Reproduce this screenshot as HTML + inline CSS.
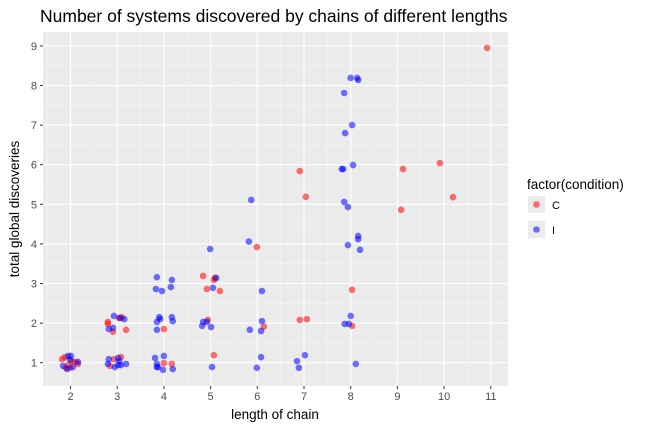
<!DOCTYPE html>
<html><head><meta charset="utf-8">
<style>
html,body{margin:0;padding:0;background:#fff;}
svg{display:block;font-family:"Liberation Sans",Arial,sans-serif;}
</style></head>
<body>
<svg id="chart" width="651" height="430" viewBox="0 0 651 430">
<text x="40" y="22" font-size="17.5" fill="#000">Number of systems discovered by chains of different lengths</text>
<rect x="43" y="32" width="465" height="354" fill="#ebebeb"/>
<g id="grid"></g>
<g id="axes"></g>
<g id="points"></g>
<text x="275" y="419" font-size="13.5" text-anchor="middle" fill="#000">length of chain</text>
<text transform="translate(19,209) rotate(-90)" font-size="13.5" text-anchor="middle" fill="#000">total global discoveries</text>
<g>
<text x="527" y="189" font-size="13.5" fill="#000">factor(condition)</text>
<g>
<rect x="528" y="196" width="17" height="17" fill="#ebebeb"/>
<circle cx="536.5" cy="204.5" r="3.3" fill="rgba(255,0,0,0.55)"/>
<text x="552" y="209" font-size="11" fill="#000">C</text></g>
<g>
<rect x="528" y="221" width="17" height="17" fill="#ebebeb"/>
<circle cx="536.5" cy="229.5" r="3.3" fill="rgba(0,0,255,0.55)"/>
<text x="552" y="234" font-size="11" fill="#000">I</text></g>
</g>
</svg>
<script>
const xTicks=[2,3,4,5,6,7,8,9,10,11];
const yTicks=[1,2,3,4,5,6,7,8,9];
const redX=[1.88,1.95,2.03,1.99,2.10,2.16,1.90,1.82,2.93,3.08,2.85,3.04,3.10,2.80,2.80,2.91,3.19,4.00,4.00,4.17,4.84,5.07,5.09,4.92,5.20,4.94,5.07,5.99,6.14,6.91,7.04,6.91,7.06,8.03,8.03,9.12,9.08,9.91,10.19,10.92];
const redY=[1.14,0.94,1.04,0.87,1.02,0.97,0.87,1.09,1.09,1.14,0.92,2.13,2.15,2.03,1.98,1.78,1.83,1.85,0.99,0.97,3.19,3.09,3.14,2.86,2.81,2.08,1.19,3.92,1.91,5.84,5.19,2.08,2.10,2.84,1.93,5.89,4.86,6.04,5.18,8.95];
const blueX=[1.95,2.01,1.84,1.93,2.05,2.16,1.99,2.82,3.02,3.08,2.95,3.19,2.80,3.04,3.02,2.93,3.06,3.15,2.82,2.91,3.81,4.00,3.85,3.87,3.98,4.19,3.85,3.90,4.17,3.85,3.92,4.19,3.85,3.85,4.17,3.83,3.96,4.15,4.99,5.12,5.05,4.84,4.82,5.01,4.92,5.03,5.82,5.87,6.10,5.84,6.08,6.10,6.08,5.99,7.02,6.85,6.89,8.11,8.00,7.87,7.96,8.16,8.16,7.94,8.20,7.86,7.94,7.81,7.84,8.05,8.03,7.88,7.86,8.00,8.16,8.14];
const blueY=[1.17,1.17,0.92,0.84,0.89,1.02,1.07,1.09,1.12,0.94,0.89,0.97,0.97,1.04,0.94,2.18,2.13,2.10,1.85,1.88,1.12,1.17,0.97,0.89,0.82,0.84,0.89,2.15,2.15,2.03,2.10,2.05,1.83,3.16,3.09,2.86,2.81,2.91,3.87,3.14,2.89,2.03,1.93,1.90,2.03,0.89,4.06,5.11,2.81,1.83,1.80,2.05,1.14,0.87,1.19,1.04,0.87,0.97,2.18,1.98,1.98,4.20,4.12,3.97,3.85,5.06,4.93,5.89,5.89,5.99,7.00,6.80,7.81,8.19,8.14,8.19];
const NS="http://www.w3.org/2000/svg";
const L=43,R=508,T=32,B=386;
function sx(v){return 70.5+(v-2)*46.7;}
function sy(v){return 362.7-(v-1)*39.6;}
function mk(tag,attrs,parent){const e=document.createElementNS(NS,tag);for(const k in attrs)e.setAttribute(k,attrs[k]);parent.appendChild(e);return e;}
const grid=document.getElementById('grid'),axes=document.getElementById('axes'),pts=document.getElementById('points');
for(let i=0;i<xTicks.length;i++){
  const x=sx(xTicks[i]);
  const gl=mk('line',{x1:x,x2:x,y1:T,y2:B,stroke:'#fff','stroke-width':1.1},grid);
  
  
  const mx=sx(xTicks[i]-0.5);
  if(mx>L){const m=mk('line',{x1:mx,x2:mx,y1:T,y2:B,stroke:'#f5f5f5','stroke-width':0.6},grid);
  
  }
  mk('line',{x1:x,x2:x,y1:B,y2:B+3,stroke:'#333','stroke-width':1},axes);
  const t=mk('text',{x:x,y:B+14,'font-size':11,'text-anchor':'middle',fill:'#4d4d4d'},axes);
  t.textContent=xTicks[i];
  
  
}
{const mx=sx(11.5);if(mx<R){const m=mk('line',{x1:mx,x2:mx,y1:T,y2:B,stroke:'#f5f5f5','stroke-width':0.6},grid);}}
for(let i=0;i<yTicks.length;i++){
  const y=sy(yTicks[i]);
  const gl=mk('line',{x1:L,x2:R,y1:y,y2:y,stroke:'#fff','stroke-width':1.1},grid);
  
  
  for(const d of [-0.5,0.5]){const my=sy(yTicks[i]+d);
    if(my>T&&my<B&&!(d===-0.5&&i>0)){const m=mk('line',{x1:L,x2:R,y1:my,y2:my,stroke:'#f5f5f5','stroke-width':0.6},grid);
    
    }}
  mk('line',{x1:L-3,x2:L,y1:y,y2:y,stroke:'#333','stroke-width':1},axes);
  const t=mk('text',{x:L-6,y:y+4,'font-size':11,'text-anchor':'end',fill:'#4d4d4d'},axes);
  t.textContent=yTicks[i];
  
  
}
function drawSeries(xs,ys,col,name){
  for(let i=0;i<xs.length;i++){
    const c=mk('circle',{cx:sx(xs[i]),cy:sy(ys[i]),r:3.3,fill:col},pts);
    
    
  }
}
drawSeries(redX,redY,'rgba(255,0,0,0.55)','point-c');
drawSeries(blueX,blueY,'rgba(0,0,255,0.55)','point-i');
</script>
</body></html>
